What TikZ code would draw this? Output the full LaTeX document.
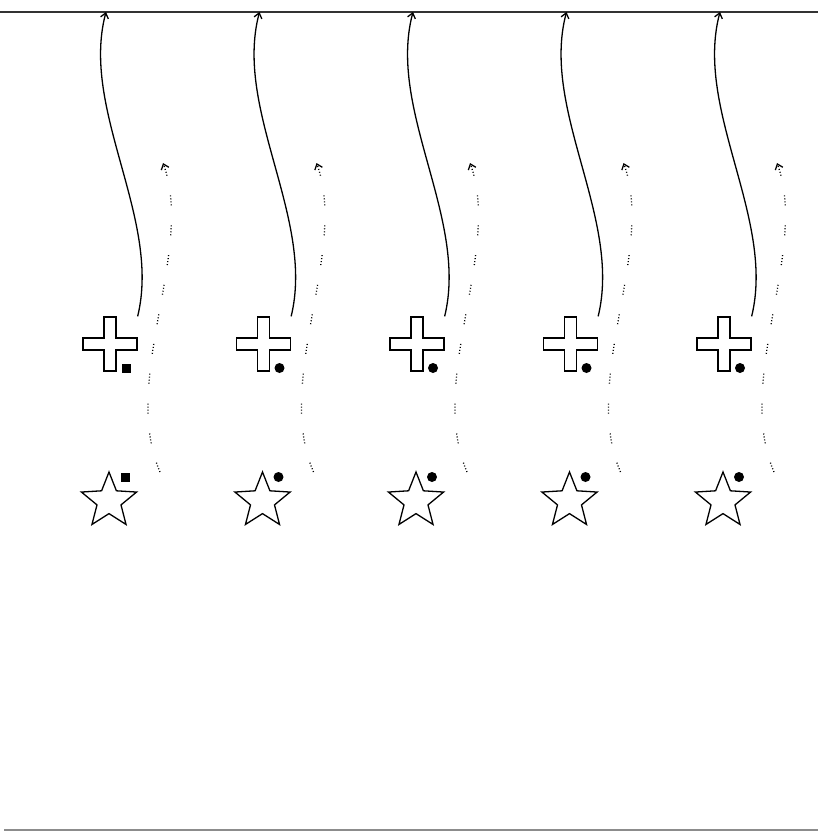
\documentclass[tikz,border=0pt]{standalone}
\usetikzlibrary{arrows.meta,positioning,calc,shapes.geometric}

\begin{document}
\begin{tikzpicture}[x=1pt,y=-1pt,line width=1.3pt,
  st/.style={star,star points=5,star point ratio=2.3,draw,minimum size=58pt,inner sep=0pt},
  pl/.style={minimum size=54pt,inner sep=0pt},
  dsq/.style={rectangle,fill,minimum size=9pt,inner sep=0pt},
  dc/.style={circle,fill,minimum size=10pt,inner sep=0pt},
  tr/.style={-{Straight Barb[length=5pt,width=8pt]}},
  tr2/.style={tr,dash pattern=on 1pt off 2pt on 1pt off 2pt on 1pt off 2pt on 1pt off 20pt}]
\useasboundingbox (0,0) rectangle (818,831);
\draw[line width=1.6pt,black!80] (0,12) -- (818,12);
\draw[line width=1.4pt,black!45] (4,830) -- (818,830);
\foreach \i/\dm in {1/dsq,2/dc,3/dc,4/dc,5/dc}{
  \node[pl] (p\i) at ({110+153.5*(\i-1)},344) {};
  \node[st] (s\i) at ({109+153.5*(\i-1)},501) {};
  \node[\dm] (dp\i) at ($(p\i)+(16,24)$) {};
  \node[\dm] (ds\i) at ($(s\i)+(16,-24)$) {};
  % plus outline
  \draw[shift={(p\i.center)}] (-6,-27) -- (6,-27) -- (6,-6) -- (27,-6) -- (27,6) -- (6,6)
    -- (6,27) -- (-6,27) -- (-6,6) -- (-27,6) -- (-27,-6) -- (-6,-6) -- cycle;
  \coordinate (tp\i) at ($(p\i)+(-4,-332)$);
  \coordinate (a\i) at ($(s\i)+(51,-29)$);
  \coordinate (b\i) at ($(s\i)+(54,-338)$);
  \draw[tr] (p\i.north east) .. controls +(24,-98) and +(-26,98) .. (tp\i);
  \draw[tr2] (a\i) .. controls +(-40,-92) and +(32,87) .. (b\i);
}
\end{tikzpicture}
\end{document}
